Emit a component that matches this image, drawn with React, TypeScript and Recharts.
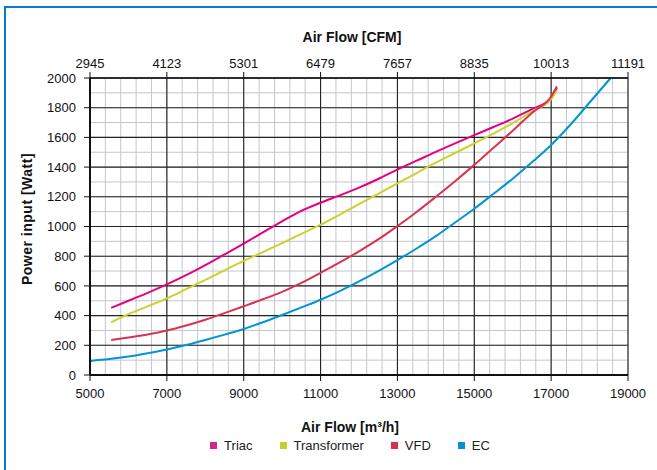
import { CartesianGrid, Label, Line, LineChart, XAxis, YAxis } from "recharts";

const FONT = "'Liberation Sans', Arial, sans-serif";

// air flow in m³/h, shared by the three AC curves
const flowMain = [
  5550, 6000, 6500, 7000, 7500, 8000, 8500, 9000, 9500, 10000, 10500, 11000, 11500,
  12000, 12500, 13000, 13500, 14000, 14500, 15000, 15500, 16000, 16500, 17000, 17150,
];
const triacPower = [
  452, 500, 553, 610, 672, 740, 812, 885, 960, 1035, 1105, 1160, 1210, 1262, 1320,
  1383, 1443, 1503, 1560, 1615, 1670, 1727, 1790, 1862, 1932,
];
const transformerPower = [
  355, 410, 462, 516, 578, 640, 705, 768, 828, 888, 950, 1012, 1080, 1150, 1220, 1291,
  1360, 1430, 1495, 1560, 1626, 1696, 1775, 1858, 1918,
];
const vfdPower = [
  236, 253, 273, 299, 333, 372, 417, 463, 510, 560, 620, 688, 758, 833, 913, 1003,
  1098, 1200, 1305, 1415, 1530, 1645, 1765, 1875, 1945,
];

const flowEC = [
  5000, 5500, 6000, 6500, 7000, 7500, 8000, 8500, 9000, 9500, 10000, 10500, 11000,
  11500, 12000, 12500, 13000, 13500, 14000, 14500, 15000, 15500, 16000, 16500, 17000,
  17500, 18000, 18550,
];
const ecPower = [
  95, 108, 125, 147, 172, 202, 236, 272, 310, 355, 404, 455, 507, 565, 630, 700, 774,
  852, 935, 1027, 1120, 1220, 1322, 1432, 1549, 1685, 1835, 2000,
];

const xTicks = [5000, 7000, 9000, 11000, 13000, 15000, 17000, 19000];
const cfmLabels = ["2945", "4123", "5301", "6479", "7657", "8835", "10013", "11191"];
const yTicks = [0, 200, 400, 600, 800, 1000, 1200, 1400, 1600, 1800, 2000];

// minor grid: every 400 m³/h and every 100 W
const xMinor = Array.from({ length: 36 }, (_, i) => 5000 + i * 400);
const yMinor = Array.from({ length: 21 }, (_, i) => i * 100);

const zip = (xs: number[], ys: number[]) => xs.map((flow, i) => ({ flow, power: ys[i] }));

const series = [
  { name: "Triac", data: zip(flowMain, triacPower), color: "#e6007e", swatch: "#d8238a" },
  { name: "Transformer", data: zip(flowMain, transformerPower), color: "#c9d32a", swatch: "#c6d02d" },
  { name: "VFD", data: zip(flowMain, vfdPower), color: "#d9344f", swatch: "#d4334f" },
  { name: "EC", data: zip(flowEC, ecPower), color: "#0095d3", swatch: "#0a8fd0" },
];

const tickStyle = { fontSize: 13, fill: "#111", fontFamily: FONT };
const titleStyle = { fontSize: 14, fontWeight: 700, fill: "#111", fontFamily: FONT };

export default function App() {
  return (
    <div
      style={{
        position: "absolute",
        left: 0,
        top: 0,
        width: 657,
        height: 470,
        background: "#fff",
        overflow: "hidden",
        fontFamily: FONT,
      }}
    >
      <div
        style={{
          position: "absolute",
          left: 4,
          top: 6,
          width: 700,
          height: 500,
          borderLeft: "2.5px solid #0a7cc6",
          borderTop: "2.5px solid #0a7cc6",
        }}
      />
      <LineChart width={657} height={470} margin={{ top: 28, right: 29, left: 0, bottom: 0 }}>
        <XAxis
          xAxisId="minor"
          type="number"
          dataKey="flow"
          domain={[5000, 19000]}
          allowDataOverflow
          ticks={xMinor}
          interval={0}
          hide
        />
        <YAxis
          yAxisId="minor"
          type="number"
          domain={[0, 2000]}
          allowDataOverflow
          ticks={yMinor}
          interval={0}
          hide
        />
        <CartesianGrid xAxisId="minor" yAxisId="minor" stroke="#c3c6cd" strokeWidth={1} />
        <CartesianGrid stroke="#222" strokeWidth={1.1} />

        <XAxis
          type="number"
          dataKey="flow"
          domain={[5000, 19000]}
          ticks={xTicks}
          height={95}
          tickSize={6}
          tickMargin={8}
          tick={tickStyle}
          stroke="#111"
          axisLine={{ stroke: "#111", strokeWidth: 2 }}
          tickLine={{ stroke: "#111" }}
        >
          <Label value="Air Flow [m³/h]" position="insideBottom" offset={38} dx={-9} style={titleStyle} />
        </XAxis>
        <XAxis
          xAxisId="top"
          orientation="top"
          type="number"
          dataKey="flow"
          domain={[5000, 19000]}
          allowDataOverflow
          ticks={xTicks}
          height={50}
          tickSize={6}
          tickMargin={4}
          tick={tickStyle}
          tickFormatter={(v) => cfmLabels[xTicks.indexOf(Number(v))] ?? ""}
          axisLine={{ stroke: "#111", strokeWidth: 1.5 }}
          tickLine={{ stroke: "#111" }}
        >
          <Label value="Air Flow [CFM]" position="insideTop" offset={4} dx={-7} style={titleStyle} />
        </XAxis>
        <YAxis
          type="number"
          domain={[0, 2000]}
          ticks={yTicks}
          width={90}
          tickSize={6}
          tickMargin={8}
          tick={tickStyle}
          axisLine={{ stroke: "#111", strokeWidth: 2 }}
          tickLine={{ stroke: "#111" }}
        >
          <Label
            content={() => (
              <text
                x={27}
                y={219}
                transform="rotate(-90 27 219)"
                textAnchor="middle"
                dominantBaseline="central"
                style={{ ...titleStyle, letterSpacing: 0.5 }}
              >
                Power input [Watt]
              </text>
            )}
          />
        </YAxis>

        {series.map((s) => (
          <Line
            key={s.name}
            data={s.data}
            dataKey="power"
            name={s.name}
            type="monotone"
            stroke={s.color}
            strokeWidth={2}
            dot={false}
            activeDot={false}
            isAnimationActive={false}
          />
        ))}
      </LineChart>
      <div
        style={{
          position: "absolute",
          top: 438,
          left: 0,
          width: 700,
          display: "flex",
          justifyContent: "center",
          gap: 27,
          fontSize: 13,
          color: "#222",
        }}
      >
        {series.map((s) => (
          <div key={s.name} style={{ display: "flex", alignItems: "center", gap: 7 }}>
            <span style={{ width: 7, height: 7, background: s.swatch, display: "inline-block" }} />
            <span>{s.name}</span>
          </div>
        ))}
      </div>
    </div>
  );
}
